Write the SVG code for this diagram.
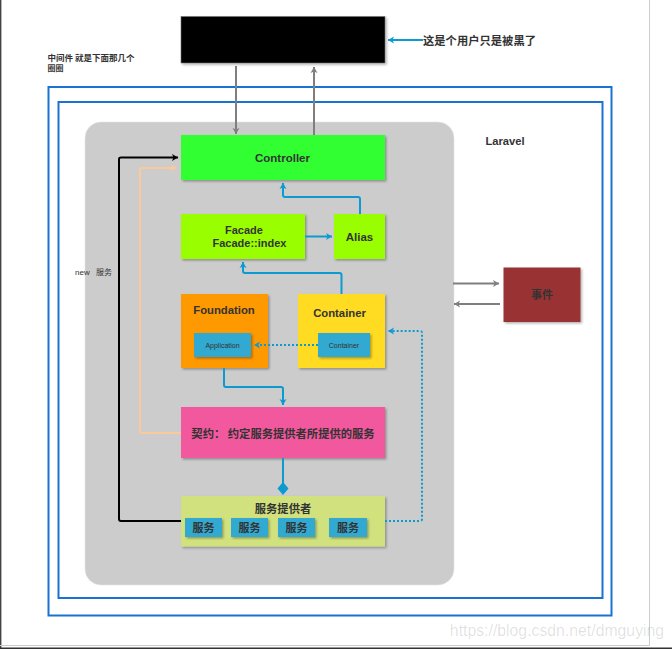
<svg xmlns="http://www.w3.org/2000/svg" width="672" height="649" viewBox="0 0 672 649">
<style>
text{font-family:"Liberation Sans","Noto Sans CJK SC",sans-serif;fill:#333;text-anchor:middle;font-weight:bold}
.cjk{font-family:"Noto Sans CJK SC","Liberation Sans",sans-serif}
.frame{fill:none;stroke:#1a73d2;stroke-width:2}
.c{fill:none;stroke-width:2;stroke-linejoin:round}
.blue{stroke:#0d9ad0}
.dot{stroke:#0d9ad0;stroke-dasharray:2 2}
.gray{stroke:#7f7f7f}
</style>
<defs>
<filter id="sh" x="-10%" y="-10%" width="125%" height="125%"><feDropShadow dx="1.5" dy="1.5" stdDeviation="0.8" flood-color="#000" flood-opacity="0.3"/></filter>
<marker id="ab" markerUnits="userSpaceOnUse" markerWidth="8" markerHeight="8" refX="6" refY="4" orient="auto"><path d="M0 0.5 L6 4 L0 7.500 L1.500 4Z" fill="#0d9ad0"/></marker>
<marker id="ag" markerUnits="userSpaceOnUse" markerWidth="8" markerHeight="8" refX="6" refY="4" orient="auto"><path d="M0 0.5 L6 4 L0 7.500 L1.500 4Z" fill="#7f7f7f"/></marker>
<marker id="ak" markerUnits="userSpaceOnUse" markerWidth="8" markerHeight="8" refX="6" refY="4" orient="auto"><path d="M0 0.5 L6 4 L0 7.500 L1.500 4Z" fill="#000"/></marker>
<marker id="ap" markerUnits="userSpaceOnUse" markerWidth="8" markerHeight="8" refX="6" refY="4" orient="auto"><path d="M0 0.5 L6 4 L0 7.500 L1.500 4Z" fill="#fcc99b"/></marker>
</defs>
<rect width="672" height="649" fill="#fff"/>
<path d="M0.7 0V649" stroke="#444" stroke-width="1.4"/>
<path d="M649.5 0V645.5H0" fill="none" stroke="#ccc" stroke-width="1"/>
<path d="M0 648.3H672" stroke="#333" stroke-width="1.4"/>

<g id="frames">
<rect class="frame" x="48.500" y="87" width="563" height="528.500"/>
<rect class="frame" x="58.500" y="102" width="544" height="496"/>
</g>
<g id="laravel">
<rect x="85" y="122" width="369" height="463" rx="16" fill="#ccc" stroke="#e4e4e4" stroke-width="0.6"/>
<text x="505" y="145" font-size="11.200">Laravel</text>
</g>

<g id="user"><rect x="181" y="16.500" width="204" height="46.500" fill="#000" stroke="#777" stroke-width="0.6" filter="url(#sh)"/></g>
<g id="note-user"><text class="cjk" x="479.500" y="44.500" font-size="11.300">这是个用户只是被黑了</text></g>
<g id="note-middleware"><text class="cjk" font-size="8.500" x="47.500" y="61" style="text-anchor:start">中间件 就是下面那几个</text><text class="cjk" font-size="8" x="47.500" y="71" style="text-anchor:start">圈圈</text></g>
<g id="note-new"><text x="75" y="275" font-size="8" style="text-anchor:start;font-weight:normal">new</text><text class="cjk" x="96" y="275" font-size="8" style="text-anchor:start;font-weight:normal">服务</text></g>

<g id="controller"><rect x="181" y="135" width="204" height="45" fill="#3f3" filter="url(#sh)"/><text x="282.500" y="161.500" font-size="11.500">Controller</text></g>
<g id="facade"><rect x="181" y="214" width="124" height="45" fill="#9f0" filter="url(#sh)"/><text x="244" y="234" font-size="11">Facade</text><text x="249.500" y="247" font-size="11">Facade::index</text></g>
<g id="alias"><rect x="334" y="214" width="51" height="45" fill="#9f0" filter="url(#sh)"/><text x="359.500" y="241" font-size="11.500">Alias</text></g>
<g id="foundation"><rect x="181" y="294" width="87" height="74" fill="#ff9900" filter="url(#sh)"/><text x="224" y="314" font-size="11.300">Foundation</text>
<rect x="194" y="333" width="57" height="24" fill="#33a9d0" filter="url(#sh)"/><text x="222.500" y="348" font-size="7" style="font-weight:normal">Application</text></g>
<g id="container"><rect x="298" y="294" width="87" height="74" fill="#ffdb22" filter="url(#sh)"/><text x="339.500" y="316.500" font-size="11.300">Container</text>
<rect x="318" y="333" width="52" height="24" fill="#33a9d0" filter="url(#sh)"/><text x="344" y="348" font-size="7" style="font-weight:normal">Container</text></g>
<g id="contract"><rect x="181" y="407" width="204" height="51" fill="#f2599d" filter="url(#sh)"/><text class="cjk" x="283" y="437.500" font-size="11.300">契约： 约定服务提供者所提供的服务</text></g>
<g id="provider"><rect x="181" y="496" width="204" height="50.500" fill="#d0e17d" filter="url(#sh)"/><text class="cjk" x="283" y="513" font-size="11.300">服务提供者</text>
<g id="svc1"><rect x="185" y="518" width="37" height="19" fill="#33a9d0" filter="url(#sh)"/><text class="cjk" x="203.500" y="532" font-size="11">服务</text></g>
<g id="svc2"><rect x="231" y="518" width="37" height="19" fill="#33a9d0" filter="url(#sh)"/><text class="cjk" x="249.500" y="532" font-size="11">服务</text></g>
<g id="svc3"><rect x="278" y="518" width="37" height="19" fill="#33a9d0" filter="url(#sh)"/><text class="cjk" x="296.500" y="532" font-size="11">服务</text></g>
<g id="svc4"><rect x="329" y="518" width="38" height="19" fill="#33a9d0" filter="url(#sh)"/><text class="cjk" x="348" y="532" font-size="11">服务</text></g>
</g>
<g id="event"><rect x="503.500" y="267.500" width="77" height="54.500" fill="#993333" filter="url(#sh)"/><text class="cjk" x="542" y="299" font-size="11">事件</text></g>

<g id="connectors">
<path class="c gray" d="M236 66V134" marker-end="url(#ag)"/>
<path class="c gray" d="M314 135V67" marker-end="url(#ag)"/>
<path class="c blue" d="M423 40H388" marker-end="url(#ab)"/>
<path class="c" stroke="#000" d="M181 521H121Q119 521 119 519V159Q119 157.500 121 157.500H178" marker-end="url(#ak)"/>
<path class="c" stroke="#fcc99b" d="M181 433H142Q140 433 140 431V170Q140 168 142 168H177" marker-end="url(#ap)"/>
<path class="c blue" d="M360 214V199Q360 197 358 197H285Q283 197 283 195V183" marker-end="url(#ab)"/>
<path class="c blue" d="M305 236.500H332" marker-end="url(#ab)"/>
<path class="c blue" d="M341.500 294V275Q341.500 273 339.500 273H245Q243 273 243 271V262" marker-end="url(#ab)"/>
<path class="c blue" d="M224 368V385Q224 387 226 387H281Q283 387 283 389V405" marker-end="url(#ab)"/>
<path class="c dot" d="M318 345H254" marker-end="url(#ab)"/>
<path class="c dot" d="M385 521H420Q422 521 422 519V333Q422 331 420 331H388" marker-end="url(#ab)"/>
<path class="c gray" d="M453 283.500H499" marker-end="url(#ag)"/>
<path class="c gray" d="M500 304H454" marker-end="url(#ag)"/>
<path class="c blue" d="M283 458V488"/>
<path d="M283 482L288.500 488.500L283 495L277.500 488.500Z" fill="#0d9ad0"/>
</g>
<text x="557" y="636" font-size="15.800" style="font-weight:normal;fill:#000;fill-opacity:0.13">https://blog.csdn.net/dmguying</text>
</svg>
